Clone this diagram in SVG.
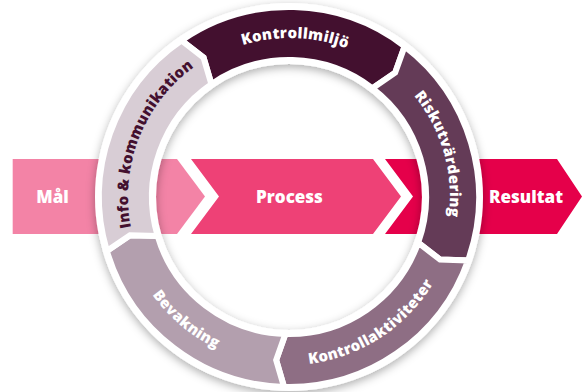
<svg xmlns="http://www.w3.org/2000/svg" width="582" height="392" viewBox="0 0 582 392">
  <defs>
    <filter id="shadow" x="-20%" y="-20%" width="140%" height="140%">
      <feDropShadow dx="0" dy="3" stdDeviation="5" flood-color="#000" flood-opacity="0.32"/>
    </filter>
    <path id="tp-miljo" d="M186.88,75.31 A161,161 0 0 1 400.79,82.28"/>
    <path id="tp-risk" d="M369.5,57.57 A161,161 0 0 1 431.15,272.59"/>
    <path id="tp-akt" d="M245.52,359.27 A168,168 0 0 0 454.93,223.28"/>
    <path id="tp-bev" d="M122.63,220.38 A168,168 0 0 0 294.86,364.90"/>
    <path id="tp-info" d="M143.09,265.04 A161,161 0 0 1 228.69,47.72"/>
  </defs>
  <style>
    .lbl { font-family: "Open Sans", "Liberation Sans", sans-serif; font-weight: 800; fill: #ffffff; }
    .big { font-size: 17px; text-anchor: middle; }
    .ring { font-size: 15px; letter-spacing: 0.3px; }
    .seg { stroke: #ffffff; stroke-width: 6; stroke-linejoin: miter; }
  </style>
  <rect width="582" height="392" fill="#ffffff"/>

  <g id="mal">
    <path d="M12.7,159 L177,159 L205,196.5 L177,234 L12.7,234 Z" fill="#F383A6"/>
    <text class="lbl big" x="52.5" y="202.5">Mål</text>
  </g>
  <g id="process">
    <path d="M191,159 L373,159 L401,196.5 L373,234 L191,234 L219,196.5 Z" fill="#EE4176"/>
    <text class="lbl big" x="289.5" y="202.5">Process</text>
  </g>
  <g id="resultat">
    <path d="M385,159 L557,159 L582,196.5 L557,234 L385,234 L413,196.5 Z" fill="#E5004A"/>
    <text class="lbl big" x="526" y="202.5">Resultat</text>
  </g>

  <path id="ring-base" d="M95,197 a194,194 0 1,0 388,0 a194,194 0 1,0 -388,0 Z M156,197 a133,133 0 1,0 266,0 a133,133 0 1,0 -266,0 Z" fill="#ffffff" fill-rule="evenodd" filter="url(#shadow)"/>

  <g id="kontrollmiljo">
    <path class="seg" fill="#43102F" d="M181.38,40.42 A190,190 0 0 1 404.67,46.25 L395.18,72.67 L372.41,88.30 A137,137 0 0 0 211.40,84.10 L203.57,57.60 Z"/>
    <text class="lbl ring"><textPath href="#tp-miljo" startOffset="50%" text-anchor="middle">Kontrollmiljö</textPath></text>
  </g>
  <g id="riskutvardering">
    <path class="seg" fill="#643B57" d="M404.67,46.25 A190,190 0 0 1 468.09,260.42 L440.06,259.57 L418.14,242.73 A137,137 0 0 0 372.41,88.30 L395.18,72.67 Z"/>
    <text class="lbl ring"><textPath href="#tp-risk" startOffset="50%" text-anchor="middle">Riskutvärdering</textPath></text>
  </g>
  <g id="kontrollaktiviteter">
    <path class="seg" fill="#8E6E84" d="M468.09,260.42 A190,190 0 0 1 284.03,386.94 L276.17,360.00 L285.41,333.95 A137,137 0 0 0 418.14,242.73 L440.06,259.57 Z"/>
    <text class="lbl ring"><textPath href="#tp-akt" startOffset="50%" text-anchor="middle">Kontrollaktiviteter</textPath></text>
  </g>
  <g id="bevakning">
    <path class="seg" fill="#B39FAE" d="M284.03,386.94 A190,190 0 0 1 106.83,250.96 L130.01,235.16 L157.64,235.91 A137,137 0 0 0 285.41,333.95 L276.17,360.00 Z"/>
    <text class="lbl ring"><textPath href="#tp-bev" startOffset="50%" text-anchor="middle">Bevakning</textPath></text>
  </g>
  <g id="info">
    <path class="seg" fill="#D8CDD5" d="M106.83,250.96 A190,190 0 0 1 181.38,40.42 L203.57,57.60 L211.40,84.10 A137,137 0 0 0 157.64,235.91 L130.01,235.16 Z"/>
    <text class="lbl ring" style="fill:#43102F"><textPath href="#tp-info" startOffset="50%" text-anchor="middle">Info &amp; kommunikation</textPath></text>
  </g>
</svg>
